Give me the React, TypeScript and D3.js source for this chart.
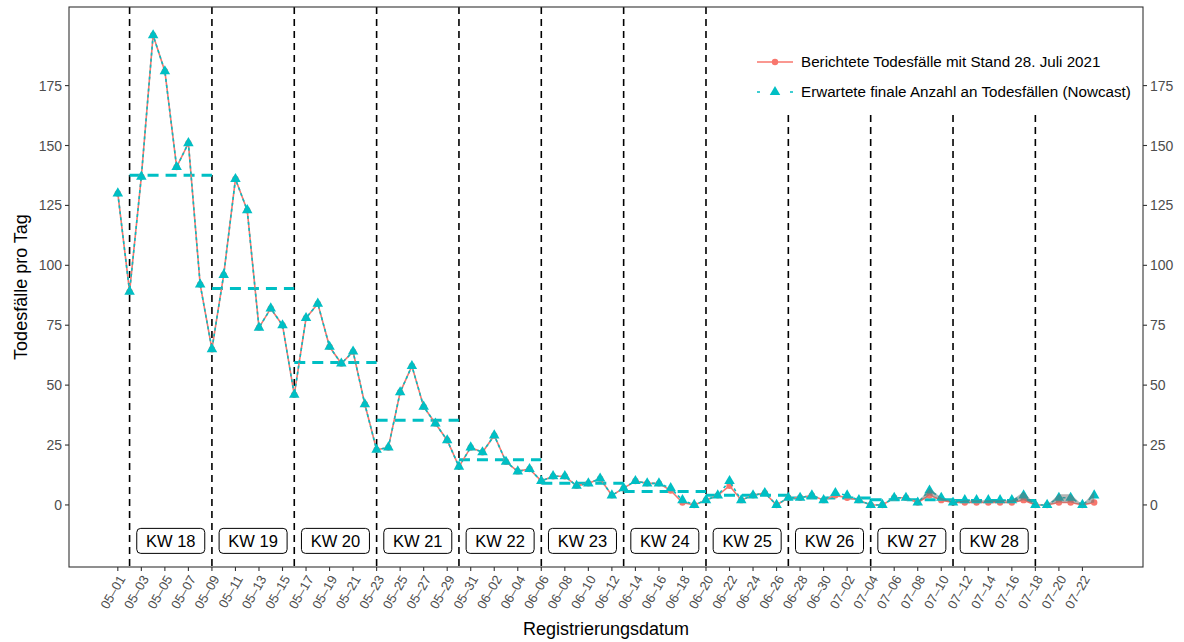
import React from 'react';
import * as d3 from 'd3';

// Tägliche Todesfälle ab 01.05.2021 (Registrierungsdatum)
const startDate = new Date(Date.UTC(2021, 4, 1));

const nowcast = [
  130, 89, 137, 196, 181, 141, 151, 92, 65,
  96, 136, 123, 74, 82, 75, 46,
  78, 84, 66, 59, 64, 42, 23,
  24, 47, 58, 41, 34, 27, 16,
  24,
  22, 29, 18, 14, 15, 10,
  12, 12, 8, 9, 11, 4, 7,
  10, 9, 9, 7, 2, 0, 2,
  4, 10, 2, 4, 5, 0, 3,
  3, 4, 2,
  5, 4, 2, 0,
  0, 3, 3, 1, 6, 3, 1,
  2, 2, 2, 2, 2, 4, 0,
  0, 3, 3, 0, 4,
];

const reported = [
  130, 89, 137, 196, 181, 141, 151, 92, 65,
  96, 136, 123, 74, 82, 75, 46,
  78, 84, 66, 59, 64, 42, 23,
  24, 47, 58, 41, 34, 27, 16,
  24,
  22, 29, 18, 14, 15, 10,
  12, 12, 8, 9, 11, 4, 7,
  10, 9, 9, 6, 1, 0, 2,
  4, 8, 2, 4, 5, 0, 3,
  3, 4, 2,
  4, 3, 2, 0,
  0, 3, 3, 1, 4, 2, 1,
  1, 1, 1, 1, 1, 2, 0,
  0, 1, 1, 0, 1,
];

// Prognoseintervall (07-08 bis 07-23)
const ribbonStart = 68;
const ribbonLow = [1, 4, 2, 1, 1, 1, 1, 1, 1, 2, 0, 0, 1, 1, 0, 1];
const ribbonHigh = [1, 7, 3, 1, 2, 2, 2, 2, 2, 5.5, 0, 0, 4.5, 4.5, 0, 5.5];

const weekLabels = ['KW 18', 'KW 19', 'KW 20', 'KW 21', 'KW 22', 'KW 23', 'KW 24', 'KW 25', 'KW 26', 'KW 27', 'KW 28'];
const weekMeans = [137.6, 90.3, 59.4, 35.3, 18.9, 9.0, 5.6, 4.0, 2.9, 2.2, 1.9];
const firstWeekBoundary = new Date(Date.UTC(2021, 4, 2));

const yTicks = [0, 25, 50, 75, 100, 125, 150, 175];

const legendLabels = [
  'Berichtete Todesfälle mit Stand 28. Juli 2021',
  'Erwartete finale Anzahl an Todesfällen (Nowcast)',
];

const RED = '#F8766D';
const CYAN = '#00BFC4';
const FONT = '"Liberation Sans", Arial, Helvetica, sans-serif';

export default function App() {
  const width = 1184;
  const height = 642;
  const left = 69, right = 1143, top = 7, bottom = 567;

  const dates = nowcast.map((_, i) => d3.utcDay.offset(startDate, i));
  const pad = 4.15 * 864e5;
  const x = d3.scaleUtc()
    .domain([new Date(+dates[0] - pad), new Date(+dates[dates.length - 1] + pad)])
    .range([left, right]);
  const y = d3.scaleLinear().domain([-25.9, 207.8]).range([bottom, top]);

  const xTicks = dates.filter((_, i) => i % 2 === 0 && i < dates.length - 1);
  const fmt = d3.utcFormat('%m-%d');

  const boundaries = d3.range(weekLabels.length + 1).map((k) => d3.utcDay.offset(firstWeekBoundary, 7 * k));

  const line = d3.line<number>()
    .x((_, i) => x(dates[i]))
    .y((v) => y(v));

  const area = d3.area<number>()
    .x((_, i) => x(dates[ribbonStart + i]))
    .y0((_, i) => y(ribbonLow[i]))
    .y1((v) => y(v));

  const tri = d3.symbol(d3.symbolTriangle, 48)();

  return (
    <svg width={width} height={height} style={{ position: 'absolute', left: 0, top: 0, background: '#fff' }} fontFamily={FONT}>
      <defs>
        <clipPath id="panel">
          <rect x={left} y={top} width={right - left} height={bottom - top} />
        </clipPath>
      </defs>
      <rect x={0} y={0} width={width} height={height} fill="#fff" />

      <g clipPath="url(#panel)">
        {boundaries.map((d, k) => (
          <line key={'v' + k} x1={x(d)} x2={x(d)} y1={top} y2={bottom}
            stroke="#000" strokeWidth={1.6} strokeDasharray="7,5" />
        ))}

        {weekMeans.map((m, k) => (
          <line key={'m' + k} x1={x(boundaries[k])} x2={x(boundaries[k + 1])} y1={y(m)} y2={y(m)}
            stroke={CYAN} strokeWidth={3} strokeDasharray="11,7" />
        ))}

        <path d={line(reported) ?? ''} fill="none" stroke={RED} strokeWidth={1.6} />
        {reported.map((v, i) => (
          <circle key={'r' + i} cx={x(dates[i])} cy={y(v)} r={3.2} fill={RED} />
        ))}
        <path d={line(nowcast) ?? ''} fill="none" stroke={CYAN} strokeWidth={1.6} strokeDasharray="3,3" />
        {nowcast.map((v, i) => (
          <path key={'n' + i} d={tri ?? ''} transform={`translate(${x(dates[i])},${y(v)})`} fill={CYAN} />
        ))}
        <path d={area(ribbonHigh) ?? ''} fill="#6e6e6e" fillOpacity={0.5} />

        {weekLabels.map((lab, k) => {
          const cx = (x(boundaries[k]) + x(boundaries[k + 1])) / 2;
          const cy = y(-15);
          return (
            <g key={'kw' + k}>
              <rect x={cx - 34} y={cy - 12.5} width={68} height={25} rx={4} fill="#fff" stroke="#000" strokeWidth={1} />
              <text x={cx} y={cy} dy="0.36em" textAnchor="middle" fontSize={16.5} fill="#000">{lab}</text>
            </g>
          );
        })}

        {/* Legende mit weißem Hintergrund oben rechts */}
        <rect x={748} y={top} width={right - 748} height={114 - top} fill="#fff" />
      </g>

      <rect x={left} y={top} width={right - left} height={bottom - top} fill="none" stroke="#333" strokeWidth={1.1} />

      {yTicks.map((t) => (
        <g key={'y' + t}>
          <line x1={left - 4} x2={left} y1={y(t)} y2={y(t)} stroke="#333" strokeWidth={1.1} />
          <text x={left - 7} y={y(t)} dy="0.36em" textAnchor="end" fontSize={14} fill="#4D4D4D">{t}</text>
          <line x1={right} x2={right + 4} y1={y(t)} y2={y(t)} stroke="#333" strokeWidth={1.1} />
          <text x={right + 7} y={y(t)} dy="0.36em" textAnchor="start" fontSize={14} fill="#4D4D4D">{t}</text>
        </g>
      ))}

      {xTicks.map((d, i) => {
        const px = x(d);
        return (
          <g key={'x' + i}>
            <line x1={px} x2={px} y1={bottom} y2={bottom + 4} stroke="#333" strokeWidth={1.1} />
            <text transform={`translate(${px},${bottom + 7}) rotate(-60)`} dy="0.71em" textAnchor="end"
              fontSize={13} fill="#4D4D4D">{fmt(d).replace('-', '–')}</text>
          </g>
        );
      })}

      <text x={(left + right) / 2} y={635} textAnchor="middle" fontSize={18} fill="#000">Registrierungsdatum</text>
      <text transform={`translate(27,${(top + bottom) / 2}) rotate(-90)`} textAnchor="middle" fontSize={18} fill="#000">Todesfälle pro Tag</text>

      <g>
        <line x1={757} x2={793} y1={62} y2={62} stroke={RED} strokeWidth={1.6} />
        <circle cx={775} cy={62} r={3.2} fill={RED} />
        <text x={801} y={62} dy="0.36em" fontSize={15.2} fill="#000">{legendLabels[0]}</text>
        <line x1={757} x2={793} y1={92} y2={92} stroke={CYAN} strokeWidth={1.6} strokeDasharray="3,13.5" />
        <path d={tri ?? ''} transform="translate(775,92)" fill={CYAN} />
        <text x={801} y={92} dy="0.36em" fontSize={15.2} fill="#000">{legendLabels[1]}</text>
      </g>
    </svg>
  );
}
